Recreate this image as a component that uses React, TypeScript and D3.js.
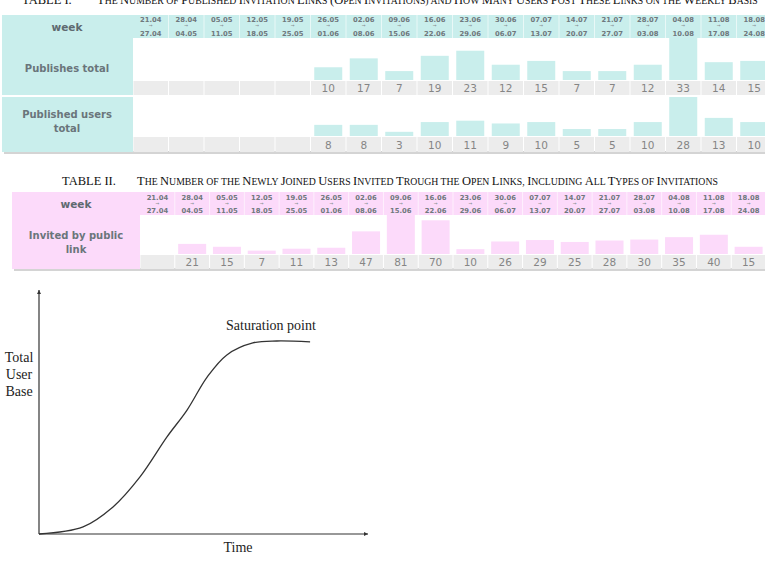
import React from "react";
import * as d3 from "d3";

const weeksFrom = ["21.04","28.04","05.05","12.05","19.05","26.05","02.06","09.06","16.06","23.06","30.06","07.07","14.07","21.07","28.07","04.08","11.08","18.08"];
const weeksTo = ["27.04","04.05","11.05","18.05","25.05","01.06","08.06","15.06","22.06","29.06","06.07","13.07","20.07","27.07","03.08","10.08","17.08","24.08"];
const publishesTotal: (number | null)[] = [null,null,null,null,null,10,17,7,19,23,12,15,7,7,12,33,14,15];
const publishedUsers: (number | null)[] = [null,null,null,null,null,8,8,3,10,11,9,10,5,5,10,28,13,10];
const invitedPublic: (number | null)[] = [null,21,15,7,11,13,47,81,70,10,26,29,25,28,30,35,40,15];

const curveTime = [0, 13.4, 22.5, 30.7, 38.9, 45.0, 51.1, 57.1, 65.0, 72.3, 82.4];
const curveUsers = [0, 2.9, 11.1, 23.4, 39.8, 50.8, 64.3, 73.4, 78.3, 79.1, 78.7];

const title1Label = "TABLE I.";
const title1 = "THE NUMBER OF PUBLISHED INVITATION LINKS (OPEN INVITATIONS) AND HOW MANY USERS POST THESE LINKS ON THE WEEKLY BASIS";
const title2Label = "TABLE II.";
const title2 = "THE NUMBER OF THE NEWLY JOINED USERS INVITED TROUGH THE OPEN LINKS, INCLUDING ALL TYPES OF INVITATIONS";

const SANS = "'DejaVu Sans', Verdana, sans-serif";
const SERIF = "'Liberation Serif', 'Times New Roman', serif";

function SmallCaps({ x, y, text, size }: { x: number; y: number; text: string; size: number }) {
  const parts: { t: string; big: boolean }[] = [];
  const words = text.split(" ");
  words.forEach((w, wi) => {
    const lower = ["OF", "THE", "AND", "ON"].includes(w) && wi > 0;
    const sep = wi < words.length - 1 ? " " : "";
    if (lower || w.length === 0) {
      parts.push({ t: w + sep, big: false });
    } else {
      let start = 0;
      if (w[0] === "(") { parts.push({ t: "(", big: true }); start = 1; }
      parts.push({ t: w[start], big: true });
      parts.push({ t: w.slice(start + 1) + sep, big: false });
    }
  });
  return (
    <text x={x} y={y} fontFamily={SERIF} fill="#111" xmlSpace="preserve">
      {parts.map((p, i) => (
        <tspan key={i} fontSize={p.big ? size : size * 0.78}>{p.t}</tspan>
      ))}
    </text>
  );
}

function Table({ x0, x1, y0, headerH, bandStart, rows, fill, headTopY, headBotY, labelCx }: any) {
  const xb = d3.scaleBand<number>().domain(d3.range(18)).range([bandStart, x1]).paddingInner(0);
  const step = xb.step();
  return (
    <g>
      <rect x={x0 + 2} y={rows[rows.length - 1].bottom - 1} width={x1 - x0} height={3} fill="#d4d4d4" />
      <rect x={x0} y={y0} width={x1 - x0} height={headerH} fill={fill} />
      <text x={labelCx} y={y0 + headerH / 2 + 4} textAnchor="middle" fontFamily={SANS} fontWeight="bold" fontSize={10.5} fill="#5e6a70">week</text>
      {weeksFrom.map((w, i) => (
        <g key={i}>
          {i > 0 && <line x1={xb(i)!} x2={xb(i)!} y1={y0} y2={y0 + headerH} stroke="#ffffff" strokeOpacity={0.6} strokeWidth={1} />}
          <text x={xb(i)! + step / 2} y={headTopY} textAnchor="middle" fontFamily={SANS} fontWeight="bold" fontSize={6.8} fill="#6f787d">{w}</text>
          <text x={xb(i)! + step / 2} y={headTopY + 4.5} textAnchor="middle" fontFamily={SANS} fontWeight="bold" fontSize={4.5} fill="#8a9296">→</text>
          <text x={xb(i)! + step / 2} y={headBotY} textAnchor="middle" fontFamily={SANS} fontWeight="bold" fontSize={6.8} fill="#6f787d">{weeksTo[i]}</text>
        </g>
      ))}
      {rows.map((r: any, ri: number) => {
        const maxV = d3.max(r.values as (number | null)[], (v) => v ?? 0) as number;
        const yh = d3.scaleLinear().domain([0, maxV]).range([0, r.baseline - r.top]);
        return (
          <g key={ri}>
            <rect x={x0} y={r.top} width={bandStart - x0} height={r.bottom - r.top} fill={fill} />
            {r.labels.map((l: string, li: number) => (
              <text key={li} x={labelCx} y={r.labelY + li * 14} textAnchor="middle" fontFamily={SANS} fontWeight="bold" fontSize={10} fill="#6a757b">{l}</text>
            ))}
            {r.values.map((v: number | null, i: number) => (
              <g key={i}>
                <rect x={xb(i)! + 0.5} y={r.bandTop} width={step - 1} height={r.bottom - r.bandTop} fill="#ececec" />
                {v != null && (
                  <>
                    <rect x={xb(i)! + step / 2 - 14} y={r.baseline - yh(v)} width={28} height={yh(v)} fill={fill} />
                    <text x={xb(i)! + step / 2} y={r.valueY} textAnchor="middle" fontFamily={SANS} fontSize={10.5} fill="#858585">{v}</text>
                  </>
                )}
              </g>
            ))}
          </g>
        );
      })}
    </g>
  );
}

export default function App() {
  const cx = d3.scaleLinear().domain([0, 100]).range([39, 368]);
  const cy = d3.scaleLinear().domain([0, 100]).range([534, 290]);
  const line = d3.line<number>().x((_, i) => cx(curveTime[i])).y((d) => cy(d)).curve(d3.curveCatmullRom.alpha(0.5));
  return (
    <svg width={765} height={561} style={{ position: "absolute", left: 0, top: 0, background: "#fff" }}>
      <rect width={765} height={561} fill="#fff" />
      <text x={22} y={4} fontFamily={SERIF} fontSize={12.5} fill="#111">{title1Label}</text>
      <SmallCaps x={97} y={4} text={title1} size={12.5} />
      <Table
        x0={2} x1={772} y0={15} headerH={23} bandStart={133} fill="#c9eeec"
        headTopY={22} headBotY={36} labelCx={67}
        rows={[
          { top: 38, bottom: 95, baseline: 80, bandTop: 81, values: publishesTotal, labels: ["Publishes total"], labelY: 72, valueY: 92 },
          { top: 97, bottom: 152, baseline: 136, bandTop: 137, values: publishedUsers, labels: ["Published users", "total"], labelY: 118, valueY: 149 },
        ]}
      />
      <text x={62} y={185} fontFamily={SERIF} fontSize={12.5} fill="#111">{title2Label}</text>
      <SmallCaps x={137} y={185} text={title2} size={12.5} />
      <Table
        x0={12} x1={766} y0={192} headerH={23} bandStart={140} fill="#fcdafa"
        headTopY={200} headBotY={213} labelCx={76}
        rows={[
          { top: 215, bottom: 269, baseline: 254, bandTop: 255, values: invitedPublic, labels: ["Invited by public", "link"], labelY: 239, valueY: 266 },
        ]}
      />
      <g>
        <line x1={cx(0)} y1={cy(0)} x2={cx(0)} y2={cy(100)} stroke="#333" strokeWidth={1.2} />
        <line x1={cx(0)} y1={cy(0)} x2={cx(100)} y2={cy(0)} stroke="#333" strokeWidth={1.2} />
        <path d={`M${cx(0) - 2},${cy(100) + 4} L${cx(0)},${cy(100)} L${cx(0) + 2},${cy(100) + 4}Z`} fill="#333" />
        <path d={`M${cx(100) - 4},${cy(0) - 2} L${cx(100)},${cy(0)} L${cx(100) - 4},${cy(0) + 2}Z`} fill="#333" />
        <path d={line(curveUsers) || ""} fill="none" stroke="#333" strokeWidth={1.3} />
        <text x={226} y={330} fontFamily={SERIF} fontSize={14} fill="#222">Saturation point</text>
        <text x={19} y={362} textAnchor="middle" fontFamily={SERIF} fontSize={14} fill="#222">Total</text>
        <text x={19} y={379} textAnchor="middle" fontFamily={SERIF} fontSize={14} fill="#222">User</text>
        <text x={19} y={396} textAnchor="middle" fontFamily={SERIF} fontSize={14} fill="#222">Base</text>
        <text x={238} y={552} textAnchor="middle" fontFamily={SERIF} fontSize={14} fill="#222">Time</text>
      </g>
    </svg>
  );
}
